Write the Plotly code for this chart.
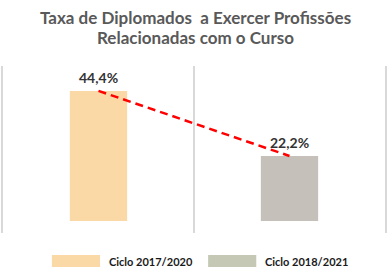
import plotly.graph_objects as go

categories = ["Ciclo 2017/2020", "Ciclo 2018/2021"]
values = [44.4, 22.2]
labels = ["44,4%", "22,2%"]
bar_colors = ["#FAD9A6", "#C5C1BA"]
legend_colors = ["#FAD9A6", "#C4C8B4"]
title_lines = ["Taxa de Diplomados  a Exercer Profissões", "Relacionadas com o Curso"]

xpos = list(range(len(categories)))

fig = go.Figure()
fig.add_trace(go.Bar(x=xpos, y=values, width=0.3, marker=dict(color=bar_colors, line=dict(width=0)),
                     showlegend=False, hoverinfo="skip"))
fig.add_trace(go.Scatter(x=xpos, y=values, mode="lines",
                         line=dict(color="#FF0000", width=2.5, dash="8px,5px"),
                         showlegend=False, hoverinfo="skip"))

for xi, v, t in zip(xpos, values, labels):
    fig.add_annotation(x=xi, y=v, text=t, showarrow=False, yanchor="bottom", yshift=3,
                       font=dict(family="Lato", size=14, color="#333333", weight="bold"))

# title (two lines)
for ty, line in zip([1.293, 1.168], title_lines):
    fig.add_annotation(xref="paper", yref="paper", x=0.505, y=ty, xanchor="center", yanchor="middle",
                       text=line, showarrow=False,
                       font=dict(family="Lato", size=17, color="#595959", weight="bold"))

# legend built from categories
leg_x = [0.128, 0.537]
for i, (c, col) in enumerate(zip(categories, legend_colors)):
    fig.add_shape(type="rect", xref="paper", yref="paper", x0=leg_x[i], x1=leg_x[i] + 0.126,
                  y0=-0.204, y1=-0.132, fillcolor=col, line=dict(width=0))
    fig.add_annotation(xref="paper", yref="paper", x=leg_x[i] + 0.144, y=-0.168, text=c,
                       showarrow=False, xanchor="left", yanchor="middle",
                       font=dict(family="Lato", size=11, color="#1a1a1a", weight="bold"))

fig.update_layout(
    width=390, height=280,
    margin=dict(l=3, r=5, t=66, b=47),
    paper_bgcolor="white", plot_bgcolor="white",
    xaxis=dict(range=[-0.5, 1.5], tickvals=[-0.5, 0.5, 1.5], showticklabels=False,
               showgrid=True, gridcolor="#D9D9D9", gridwidth=1.5, zeroline=False, ticks=""),
    yaxis=dict(range=[-4.1, 52.9], showgrid=False, zeroline=False, showticklabels=False, ticks="",
               showline=True, mirror=True, linecolor="#D9D9D9", linewidth=1.5),
    showlegend=False,
)

fig.write_html("out.html")
